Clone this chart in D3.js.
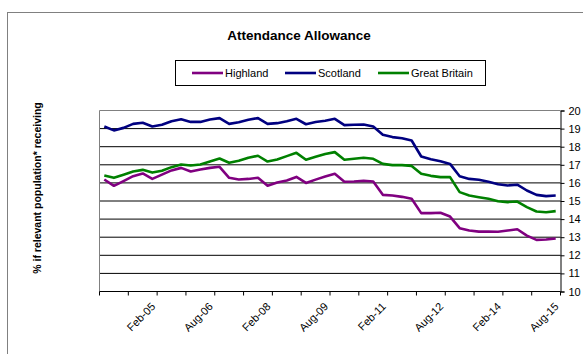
<!DOCTYPE html>
<html><head><meta charset="utf-8">
<script src="https://cdn.jsdelivr.net/npm/d3@7"></script>
<style>body{margin:0;background:#fff;}svg{display:block;font-family:Arial,"Liberation Sans",sans-serif;}</style>
</head><body>
<svg id="c" width="583" height="354"></svg>
<script>
const categories = ["Nov-03","Feb-04","May-04","Aug-04","Nov-04","Feb-05","May-05","Aug-05","Nov-05","Feb-06","May-06","Aug-06",
"Nov-06","Feb-07","May-07","Aug-07","Nov-07","Feb-08","May-08","Aug-08","Nov-08","Feb-09","May-09","Aug-09",
"Nov-09","Feb-10","May-10","Aug-10","Nov-10","Feb-11","May-11","Aug-11","Nov-11","Feb-12","May-12","Aug-12",
"Nov-12","Feb-13","May-13","Aug-13","Nov-13","Feb-14","May-14","Aug-14","Nov-14","Feb-15","May-15","Aug-15"];
const tickLabels = ["Feb-05","Aug-06","Feb-08","Aug-09","Feb-11","Aug-12","Feb-14","Aug-15"];
const yTicks = [10,11,12,13,14,15,16,17,18,19,20];
const highland = [16.19,15.84,16.10,16.37,16.52,16.22,16.46,16.69,16.83,16.63,16.74,16.83,
16.89,16.28,16.19,16.22,16.28,15.84,16.02,16.13,16.33,16.00,16.18,16.35,
16.50,16.06,16.08,16.12,16.08,15.34,15.30,15.23,15.12,14.33,14.33,14.35,
14.14,13.50,13.37,13.31,13.31,13.30,13.37,13.44,13.09,12.85,12.87,12.93];
const scotland = [19.12,18.90,19.04,19.26,19.32,19.12,19.21,19.41,19.52,19.37,19.37,19.50,
19.58,19.26,19.35,19.49,19.58,19.26,19.30,19.41,19.54,19.24,19.36,19.43,
19.54,19.19,19.21,19.23,19.12,18.66,18.53,18.47,18.34,17.46,17.31,17.20,
17.05,16.37,16.22,16.17,16.06,15.93,15.86,15.90,15.58,15.34,15.27,15.30];
const gb = [16.41,16.28,16.45,16.63,16.72,16.57,16.67,16.87,17.02,16.96,17.02,17.18,
17.35,17.11,17.22,17.39,17.50,17.18,17.29,17.48,17.66,17.28,17.44,17.60,
17.70,17.28,17.33,17.39,17.33,17.05,16.98,16.98,16.94,16.50,16.39,16.32,
16.32,15.49,15.30,15.21,15.12,14.99,14.94,14.97,14.66,14.42,14.38,14.44];
const seriesNames = ["Highland","Scotland","Great Britain"];
const seriesData = [highland, scotland, gb];
const colors = ["#800080","#000080","#008000"];

const svg = d3.select("#c");
const L = 99.5, R = 560.5, T = 110.5, B = 291.5;

// outer chart border
svg.append("rect").attr("x",7.5).attr("y",12.5).attr("width",700).attr("height",500)
  .attr("fill","#fff").attr("stroke","#808080").attr("stroke-width",1);

const x = d3.scaleBand().domain(categories).range([L, R]).padding(0);
const xc = d => x(d) + x.bandwidth()/2;
const y = d3.scaleLinear().domain([10,20]).range([B, T]);

// gridlines
svg.append("g").selectAll("line").data(yTicks.filter(v=>v>10 && v<20)).join("line")
  .attr("x1",L).attr("x2",R).attr("y1",d=>y(d)).attr("y2",d=>y(d))
  .attr("stroke","#000").attr("stroke-width",1);

// plot border (left/top gray)
svg.append("line").attr("x1",L).attr("x2",L).attr("y1",T).attr("y2",B).attr("stroke","#808080");
svg.append("line").attr("x1",L).attr("x2",R).attr("y1",T).attr("y2",T).attr("stroke","#808080");

// right axis
const yAxis = d3.axisRight(y).tickValues(yTicks).tickSize(4).tickPadding(4).tickFormat(d3.format("d"));
const gy = svg.append("g").attr("transform",`translate(${R},0)`).call(yAxis);
gy.select(".domain").attr("stroke","#000");
gy.selectAll(".tick line").attr("stroke","#000");
gy.selectAll("text").attr("font-size","11px").attr("fill","#000").attr("font-family","Arial, 'Liberation Sans', sans-serif");

// bottom axis: ticks every 3 categories at band boundaries
const boundaries = categories.filter((d,i)=>i%3===0).map(d=>x(d)).concat([R]);
const gx = svg.append("g");
gx.append("line").attr("x1",L).attr("x2",R).attr("y1",B).attr("y2",B).attr("stroke","#000");
gx.selectAll("line.t").data(boundaries).join("line").attr("class","t")
  .attr("x1",d=>d).attr("x2",d=>d).attr("y1",B).attr("y2",B+4).attr("stroke","#000");
gx.selectAll("text").data(tickLabels).join("text")
  .attr("transform",d=>`translate(${xc(d)+1},${B+13}) rotate(-45)`)
  .attr("text-anchor","end").attr("dy","0.35em")
  .attr("font-size","11px").attr("fill","#000").text(d=>d);

// lines
const line = d3.line().x((d,i)=>xc(categories[i])).y(d=>y(d));
seriesData.forEach((s,k)=>{
  svg.append("path").datum(s).attr("d",line).attr("fill","none")
    .attr("stroke",colors[k]).attr("stroke-width",2.6).attr("stroke-linejoin","round");
});

// title
svg.append("text").attr("x",299).attr("y",40).attr("text-anchor","middle")
  .attr("font-size","13.5px").attr("font-weight","bold").text("Attendance Allowance");

// legend
svg.append("rect").attr("x",175.5).attr("y",60.5).attr("width",310).attr("height",25)
  .attr("fill","#fff").attr("stroke","#000");
const legX = [192, 285, 378];
seriesNames.forEach((n,k)=>{
  svg.append("line").attr("x1",legX[k]).attr("x2",legX[k]+31).attr("y1",73).attr("y2",73)
    .attr("stroke",colors[k]).attr("stroke-width",2.6);
  svg.append("text").attr("x",legX[k]+33).attr("y",73).attr("dy","0.35em")
    .attr("font-size","11px").text(n);
});

// y axis title
svg.append("text").attr("transform","translate(41,188) rotate(-90)").attr("text-anchor","middle")
  .attr("font-size","10.5px").attr("font-weight","bold").text("% if relevant population* receiving");
</script>
</body></html>
